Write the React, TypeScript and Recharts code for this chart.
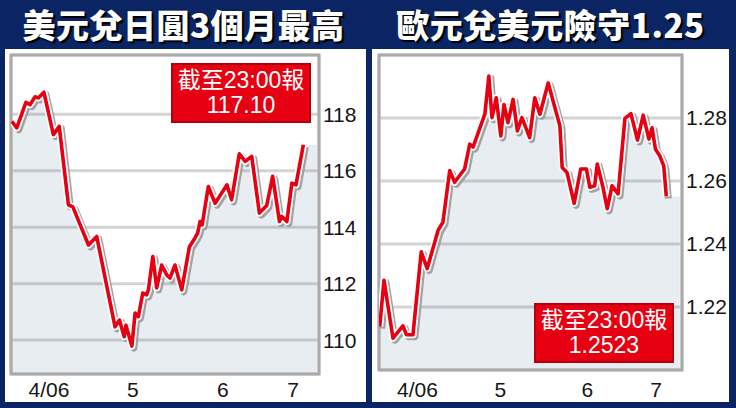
import {
  ComposedChart,
  Area,
  Line,
  XAxis,
  YAxis,
  CartesianGrid,
  ReferenceArea,
} from "recharts";

// x values are days counted from 6 April; months start on these days
const MONTH_STARTS = [25, 56, 86];
const MONTH_LABELS = ["4/06", "5", "6", "7"];

// USD/JPY
const JPY_DAY = [
  -0.5, 1.2, 4.3, 5.7, 7.4, 8.5, 10.4, 13.6, 15.6, 18.7, 20.2, 25.5, 28.3, 34.5,
  36, 37.6, 38.2, 40.2, 41.3, 42.4, 43.9, 45.2, 45.8, 47.3, 48.6, 50.3, 52, 53.1,
  54.8, 57.1, 59.7, 61.6, 62.5, 63.3, 64, 66.1, 68.4, 72.4, 74, 76.6, 78.6, 80.8,
  83.4, 85.9, 87.9, 90.2, 91, 92.7, 94.4, 95.8, 98.3,
];
const JPY_RATE = [
  117.75, 117.52, 118.42, 118.34, 118.62, 118.58, 118.78, 117.28, 117.57, 114.79,
  114.72, 113.37, 113.67, 110.47, 110.71, 110.12, 110.53, 109.79, 110.96, 110.83,
  111.67, 111.6, 111.78, 112.96, 111.85, 112.66, 112.31, 112.2, 112.66, 111.78,
  113.31, 113.62, 113.8, 114.2, 114.08, 115.44, 114.85, 115.5, 114.97, 116.6,
  116.33, 116.51, 114.5, 114.77, 115.8, 114.2, 114.38, 114.2, 115.56, 115.5,
  116.92,
];
const JPY_TICKS = [110, 112, 114, 116, 118];

// EUR/USD
const EUR_DAY = [
  -1.75, -0.25, 2.9, 6.4, 7.6, 9.9, 12.8, 14.9, 18.7, 20.4, 22.8, 24.5, 28, 29.8,
  31, 35.1, 36.5, 37.6, 39.1, 40.7, 41.8, 43.2, 45, 46.5, 48.1, 50.8, 52.6, 54.4,
  57.3, 61.4, 62.2, 63.9, 66.4, 68.7, 70.7, 71.9, 73.6, 74.5, 76.5, 78, 79.7,
  81.8, 84.2, 86.3, 88.6, 90.6, 92.6, 93.7, 94.9, 96.4, 97.8, 98.7,
];
const EUR_RATE = [
  1.2138, 1.2285, 1.2101, 1.214, 1.2112, 1.2112, 1.2375, 1.2322, 1.2443, 1.2469,
  1.2633, 1.2596, 1.2638, 1.2717, 1.2708, 1.2812, 1.2933, 1.2801, 1.2864, 1.2743,
  1.2843, 1.2785, 1.2859, 1.2759, 1.2801, 1.2738, 1.2864, 1.2812, 1.2911, 1.2775,
  1.2643, 1.2627, 1.2529, 1.2638, 1.2638, 1.258, 1.2585, 1.2654, 1.258, 1.2512,
  1.2585, 1.2559, 1.2799, 1.2814, 1.273, 1.2809, 1.2733, 1.2769, 1.2701, 1.268,
  1.2648, 1.2551,
];
const EUR_TICKS = [1.22, 1.24, 1.26, 1.28];

const NAVY = "#0b2463";
const RED = "#e60012";
const TICK_STYLE = { fontFamily: "'Liberation Sans', Arial, sans-serif", fontSize: 21, fill: "#151515" };

type PanelProps = {
  id: string;
  left: number;
  width: number;
  title: string;
  days: number[];
  rates: number[];
  fillEnd: number;
  xDomain: [number, number];
  yDomain: [number, number];
  yTicks: number[];
  fmt: (v: number) => string;
  plotLeft: number;
  axisHeight: number;
  labelGap: number;
  note: string;
  noteLeft: number;
  noteTop: number;
};

function RatePanel(p: PanelProps) {
  const rows: { d: number; v?: number; f: number }[] = p.days.map((d, i) => ({
    d,
    v: p.rates[i],
    f: p.rates[i],
  }));
  rows.push({ d: p.fillEnd, f: p.rates[p.rates.length - 1] });

  const bounds = [p.xDomain[0], ...MONTH_STARTS, p.xDomain[1]];
  const labelTicks = MONTH_LABELS.map((_, i) => (bounds[i] + bounds[i + 1]) / 2);

  return (
    <>
      <div
        style={{
          position: "absolute",
          left: p.left - (p.id === "jpy" ? 5 : 0),
          top: 4,
          width: p.width + (p.id === "jpy" ? 6 : 0),
          textAlign: "center",
          color: "#fff",
          fontFamily: "'Noto Sans CJK TC', sans-serif",
          fontWeight: 900,
          fontSize: 33,
          lineHeight: "40px",
          letterSpacing: 0.5,
          textShadow: "2px 2px 1px #000",
        }}
      >
        {p.title}
      </div>
      <div
        style={{
          position: "absolute",
          left: p.left,
          top: 49,
          width: p.width,
          height: 353,
          background: "#fff",
        }}
      >
        <ComposedChart
          width={p.width}
          height={353}
          data={rows}
          margin={{ top: 6, left: p.plotLeft, right: 0, bottom: 0 }}
        >
          <defs>
            <filter id={`sh-${p.id}`} x="-5%" y="-5%" width="115%" height="115%">
              <feDropShadow dx="2" dy="2" stdDeviation="0.7" floodColor="#9a9a9a" floodOpacity="0.9" />
            </filter>
          </defs>
          <CartesianGrid stroke="#d3d3d3" strokeWidth={3} />
          <XAxis
            dataKey="d"
            type="number"
            domain={p.xDomain}
            ticks={MONTH_STARTS}
            allowDataOverflow
            tick={false}
            axisLine={false}
            tickLine={false}
            height={0}
          />
          <XAxis
            xAxisId="lab"
            dataKey="d"
            type="number"
            domain={p.xDomain}
            ticks={labelTicks}
            allowDataOverflow
            tickFormatter={(_, i) => MONTH_LABELS[i]}
            axisLine={false}
            tickLine={false}
            tickSize={0}
            tickMargin={p.labelGap}
            height={p.axisHeight}
            tick={TICK_STYLE}
            interval={0}
          />
          <YAxis
            orientation="right"
            type="number"
            domain={p.yDomain}
            ticks={p.yTicks}
            allowDataOverflow
            axisLine={false}
            tickLine={false}
            tickSize={0}
            tickMargin={4}
            width={p.width - p.plotLeft - (p.id === "jpy" ? 308 : 303)}
            tick={TICK_STYLE}
            tickFormatter={p.fmt}
            interval={0}
          />
          <Area
            dataKey="f"
            type="linear"
            stroke="none"
            fill="#4f7598"
            fillOpacity={0.13}
            isAnimationActive={false}
          />
          <Line
            dataKey="v"
            type="linear"
            stroke="#fff"
            strokeWidth={7}
            strokeLinejoin="round"
            dot={false}
            activeDot={false}
            filter={`url(#sh-${p.id})`}
            isAnimationActive={false}
          />
          <Line
            dataKey="v"
            type="linear"
            stroke={RED}
            strokeWidth={3.6}
            strokeLinejoin="round"
            dot={false}
            activeDot={false}
            isAnimationActive={false}
          />
          <ReferenceArea
            x1={p.xDomain[0]}
            x2={p.xDomain[1]}
            y1={p.yDomain[0]}
            y2={p.yDomain[1]}
            fill="none"
            stroke="#aaaaaa"
            strokeWidth={3}
          />
        </ComposedChart>
        <div
          style={{
            position: "absolute",
            left: p.noteLeft,
            top: p.noteTop,
            width: 136,
            height: 56,
            background: RED,
            border: "2px solid #b3000d",
            color: "#fff",
            fontFamily: "'Liberation Sans', 'Noto Sans CJK TC', sans-serif",
            fontSize: 23,
            lineHeight: "25px",
            textAlign: "center",
            display: "flex",
            flexDirection: "column",
            justifyContent: "center",
          }}
        >
          <div>截至23:00報</div>
          <div>{p.note}</div>
        </div>
      </div>
    </>
  );
}

export default function App() {
  return (
    <div
      style={{
        position: "absolute",
        left: 0,
        top: 0,
        width: 736,
        height: 408,
        background: NAVY,
        overflow: "hidden",
      }}
    >
      <RatePanel
        id="jpy"
        left={5}
        width={361}
        title="美元兌日圓3個月最高"
        days={JPY_DAY}
        rates={JPY_RATE}
        fillEnd={102.85}
        xDomain={[-0.75, 103.6]}
        yDomain={[108.8, 120.1]}
        yTicks={JPY_TICKS}
        fmt={(v) => String(v)}
        plotLeft={6}
        axisHeight={28}
        labelGap={8}
        note="117.10"
        noteLeft={166}
        noteTop={14}
      />
      <RatePanel
        id="eur"
        left={372}
        width={357}
        title="歐元兌美元險守1.25"
        days={EUR_DAY}
        rates={EUR_RATE}
        fillEnd={103.4}
        xDomain={[-2, 104.2]}
        yDomain={[1.2, 1.3]}
        yTicks={EUR_TICKS}
        fmt={(v) => v.toFixed(2)}
        plotLeft={7}
        axisHeight={32}
        labelGap={12}
        note="1.2523"
        noteLeft={162}
        noteTop={254}
      />
    </div>
  );
}
